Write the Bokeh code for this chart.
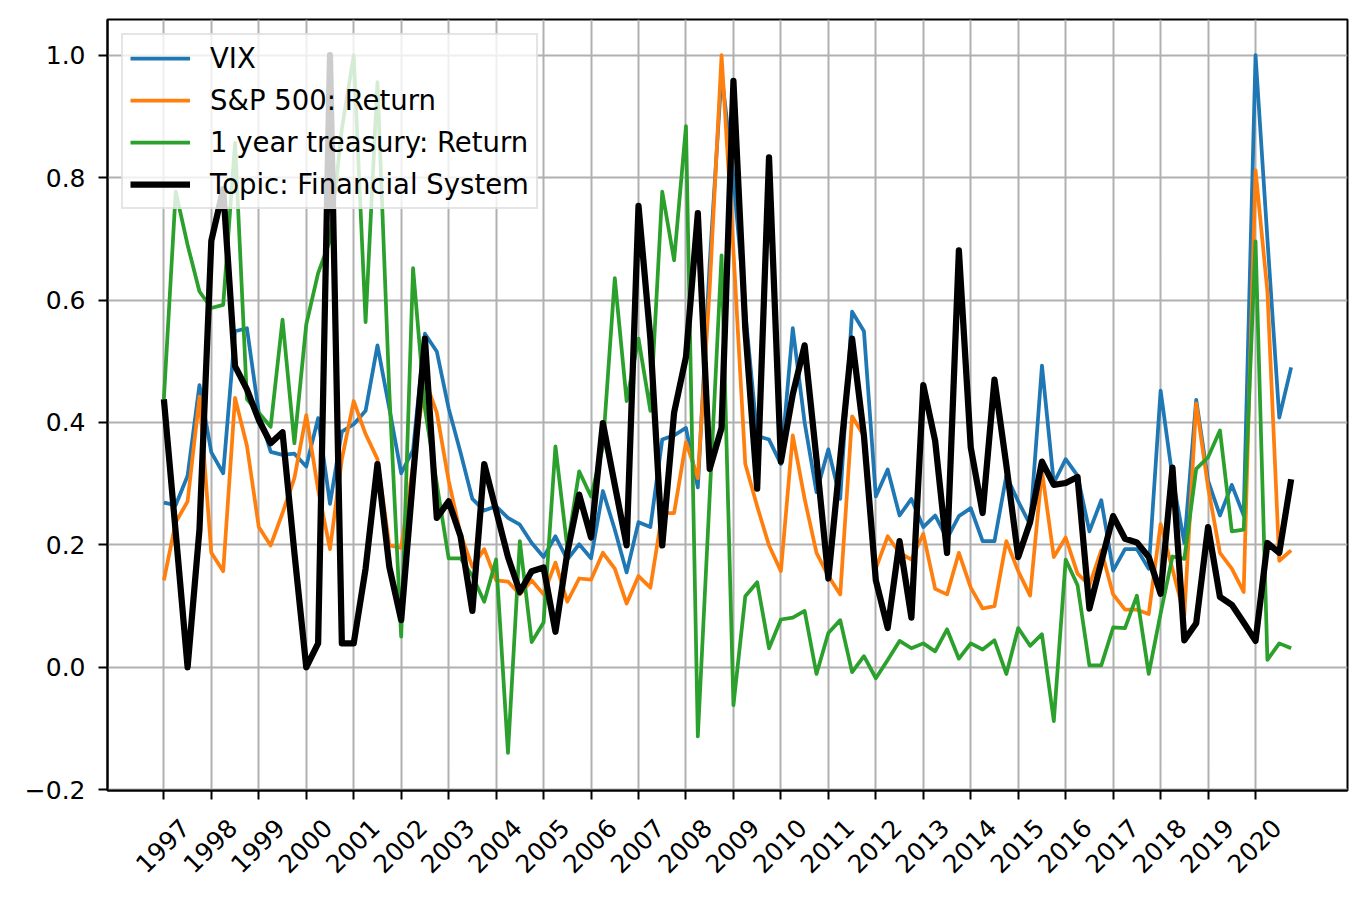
from math import pi
from bokeh.plotting import figure
from bokeh.models import Range1d, FixedTicker, LinearAxis, Legend, LegendItem
from bokeh.embed import file_html
from bokeh.resources import INLINE

# quarterly dates 1997Q1 .. 2020Q4 (96 quarters)
quarters = [1997 + 0.25 * i for i in range(96)]

vix = [0.269, 0.265, 0.313, 0.461, 0.351, 0.317, 0.549, 0.554, 0.416, 0.352,
       0.347, 0.349, 0.328, 0.407, 0.267, 0.385, 0.397, 0.419, 0.526, 0.423,
       0.317, 0.355, 0.545, 0.516, 0.423, 0.351, 0.275, 0.256, 0.263, 0.244,
       0.233, 0.203, 0.180, 0.214, 0.176, 0.201, 0.178, 0.288, 0.225, 0.155,
       0.237, 0.229, 0.372, 0.379, 0.391, 0.294, 0.660, 0.970, 0.800, 0.580,
       0.378, 0.372, 0.332, 0.554, 0.400, 0.286, 0.356, 0.275, 0.581, 0.549,
       0.279, 0.323, 0.248, 0.275, 0.229, 0.248, 0.210, 0.247, 0.260, 0.206,
       0.206, 0.313, 0.271, 0.233, 0.493, 0.301, 0.340, 0.313, 0.222, 0.273,
       0.158, 0.193, 0.193, 0.161, 0.452, 0.310, 0.203, 0.437, 0.305, 0.248,
       0.298, 0.248, 1.000, 0.700, 0.408, 0.490]

sp500 = [0.142, 0.237, 0.271, 0.442, 0.187, 0.157, 0.440, 0.362, 0.229, 0.199,
         0.252, 0.309, 0.412, 0.290, 0.193, 0.340, 0.435, 0.381, 0.340, 0.199,
         0.195, 0.330, 0.470, 0.416, 0.305, 0.218, 0.164, 0.193, 0.142, 0.140,
         0.119, 0.142, 0.119, 0.171, 0.107, 0.145, 0.143, 0.187, 0.161, 0.104,
         0.149, 0.130, 0.252, 0.252, 0.368, 0.309, 0.620, 1.000, 0.680, 0.332,
         0.263, 0.199, 0.157, 0.379, 0.275, 0.187, 0.149, 0.119, 0.410, 0.378,
         0.161, 0.214, 0.187, 0.176, 0.218, 0.128, 0.119, 0.187, 0.130, 0.096,
         0.100, 0.206, 0.157, 0.117, 0.321, 0.180, 0.212, 0.153, 0.134, 0.191,
         0.119, 0.094, 0.094, 0.087, 0.234, 0.160, 0.085, 0.431, 0.294, 0.187,
         0.161, 0.123, 0.812, 0.614, 0.174, 0.191]

treasury = [0.438, 0.777, 0.690, 0.614, 0.587, 0.592, 0.857, 0.438, 0.416, 0.393,
            0.568, 0.366, 0.560, 0.644, 0.697, 0.880, 1.000, 0.564, 0.956, 0.450,
            0.050, 0.652, 0.423, 0.300, 0.178, 0.178, 0.149, 0.107, 0.176, -0.140,
            0.206, 0.041, 0.073, 0.361, 0.195, 0.320, 0.279, 0.360, 0.636, 0.435,
            0.537, 0.419, 0.777, 0.665, 0.884, -0.113, 0.280, 0.673, -0.062, 0.116,
            0.139, 0.031, 0.078, 0.081, 0.092, -0.011, 0.056, 0.077, -0.008, 0.018,
            -0.018, 0.012, 0.043, 0.031, 0.039, 0.026, 0.062, 0.014, 0.039, 0.029,
            0.044, -0.011, 0.064, 0.035, 0.054, -0.088, 0.176, 0.134, 0.003, 0.003,
            0.065, 0.064, 0.117, -0.011, 0.088, 0.181, 0.177, 0.324, 0.343, 0.387,
            0.222, 0.225, 0.696, 0.012, 0.039, 0.031]

topic = [0.438, 0.220, 0.000, 0.225, 0.697, 0.781, 0.492, 0.454, 0.404, 0.366,
         0.384, 0.187, 0.000, 0.039, 1.000, 0.039, 0.039, 0.161, 0.332, 0.164,
         0.077, 0.310, 0.537, 0.244, 0.271, 0.214, 0.092, 0.332, 0.256, 0.180,
         0.123, 0.157, 0.163, 0.058, 0.187, 0.282, 0.212, 0.399, 0.298, 0.199,
         0.754, 0.537, 0.199, 0.416, 0.507, 0.742, 0.324, 0.391, 0.958, 0.553,
         0.292, 0.833, 0.336, 0.446, 0.526, 0.340, 0.145, 0.342, 0.537, 0.378,
         0.142, 0.064, 0.206, 0.081, 0.461, 0.370, 0.187, 0.681, 0.359, 0.252,
         0.470, 0.330, 0.180, 0.237, 0.336, 0.298, 0.301, 0.311, 0.096, 0.172,
         0.247, 0.210, 0.204, 0.180, 0.120, 0.326, 0.044, 0.072, 0.229, 0.115,
         0.102, 0.073, 0.043, 0.203, 0.187, 0.307]

series_names = ["VIX", "S&P 500: Return", "1 year treasury: Return", "Topic: Financial System"]
series_colors = ["#1f77b4", "#ff7f0e", "#2ca02c", "black"]

years = list(range(1997, 2021))
year_labels = [str(y) for y in years]
ytick_vals = [-0.2, 0.0, 0.2, 0.4, 0.6, 0.8, 1.0]
ytick_labels = ["\u22120.2", "0.0", "0.2", "0.4", "0.6", "0.8", "1.0"]

FONT = "DejaVu Sans"
X0, X1 = 1995.8125, 2021.9375
SHIFT = 0.45  # label anchor shift (years) so rotated labels sit centred on ticks

p = figure(width=1358, height=891, output_backend="svg", toolbar_location=None,
           x_range=Range1d(X0, X1), y_range=Range1d(-0.2014, 1.0584),
           x_axis_location=None,
           min_border_left=107, min_border_right=11, min_border_top=19, min_border_bottom=101)
p.background_fill_color = "white"
p.border_fill_color = "white"
p.outline_line_color = "black"
p.outline_line_width = 2

p.extra_x_ranges = {"lab": Range1d(X0 - SHIFT, X1 - SHIFT)}

tick_axis = LinearAxis(ticker=FixedTicker(ticks=[], minor_ticks=years))
tick_axis.axis_line_color = "black"
tick_axis.axis_line_width = 2
tick_axis.major_tick_out = 9
tick_axis.major_tick_in = 0
tick_axis.minor_tick_out = 9
tick_axis.minor_tick_in = 0
tick_axis.minor_tick_line_width = 2
tick_axis.minor_tick_line_color = "black"
tick_axis.major_label_standoff = 0
p.add_layout(tick_axis, "below")

label_axis = LinearAxis(x_range_name="lab", ticker=FixedTicker(ticks=years),
                        major_label_overrides=dict(zip(years, year_labels)))
label_axis.axis_line_color = None
label_axis.major_tick_line_color = None
label_axis.minor_tick_line_color = None
label_axis.major_tick_out = 0
label_axis.major_tick_in = 0
label_axis.major_label_orientation = pi / 4
label_axis.major_label_standoff = 24
label_axis.major_label_text_font = FONT
label_axis.major_label_text_font_size = "25px"
label_axis.major_label_text_color = "black"
p.add_layout(label_axis, "below")

ya = p.yaxis[0]
ya.ticker = FixedTicker(ticks=ytick_vals)
ya.major_label_overrides = dict(zip(ytick_vals, ytick_labels))
ya.axis_line_color = "black"
ya.axis_line_width = 2
ya.major_tick_out = 9
ya.major_tick_in = 0
ya.major_tick_line_width = 2
ya.minor_tick_line_color = None
ya.major_label_standoff = 13
ya.major_label_text_font = FONT
ya.major_label_text_font_size = "25px"
ya.major_label_text_color = "black"

p.xgrid.ticker = FixedTicker(ticks=years)
p.xgrid.grid_line_color = "#b0b0b0"
p.xgrid.grid_line_width = 2
p.ygrid.ticker = FixedTicker(ticks=ytick_vals)
p.ygrid.grid_line_color = "#b0b0b0"
p.ygrid.grid_line_width = 2

widths = [3.75, 3.75, 3.75, 6.25]
data = [vix, sp500, treasury, topic]
items = []
for name, col, w, ys in zip(series_names, series_colors, widths, data):
    r = p.line(quarters, ys, line_color=col, line_width=w, line_join="round")
    items.append(LegendItem(label=name, renderers=[r]))

legend = Legend(items=items, location="top_left")
legend.label_text_font = FONT
legend.label_text_font_size = "27.5px"
legend.label_text_color = "black"
legend.glyph_width = 60
legend.glyph_height = 32
legend.label_height = 32
legend.spacing = 10
legend.padding = 7
legend.margin = 14
legend.label_standoff = 20
legend.border_line_color = "#cccccc"
legend.border_line_width = 2
legend.background_fill_color = "white"
legend.background_fill_alpha = 0.8
p.add_layout(legend)

open("out.html", "w").write(file_html(p, INLINE))
